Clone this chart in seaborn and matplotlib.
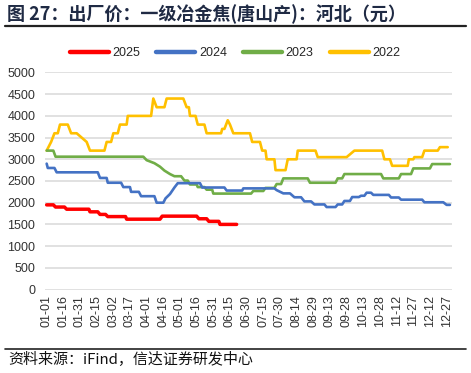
import matplotlib
matplotlib.use("Agg")
import matplotlib.pyplot as plt
import seaborn as sns
import pandas as pd
from matplotlib.lines import Line2D

# ---------------- data (vertices; x = day of year) ----------------
tick_days = list(range(0, 361, 15))
tick_labels = ["01-01", "01-16", "01-31", "02-15", "03-02", "03-17", "04-01", "04-16",
               "05-01", "05-16", "05-31", "06-15", "06-30", "07-15", "07-30", "08-14",
               "08-29", "09-13", "09-28", "10-13", "10-28", "11-12", "11-27", "12-12", "12-27"]

days_2025 = [0, 6, 8, 16, 18, 38, 39, 46, 48, 53, 55, 71, 72, 102, 104, 135, 137, 144, 146, 155, 156, 171]
vals_2025 = [1950, 1950, 1900, 1900, 1850, 1850, 1790, 1790, 1730, 1730, 1680, 1680,
             1620, 1620, 1690, 1690, 1630, 1630, 1570, 1570, 1500, 1500]

days_2024 = [0, 1, 7, 9, 46, 48, 54, 55, 67, 69, 75, 76, 83, 85, 97, 99, 105, 107, 111, 115,
             118, 138, 140, 160, 162, 176, 177, 205, 207, 213, 219, 223, 229, 232, 238, 241, 250,
             252, 260, 262, 266, 268, 273, 275, 281, 283, 286, 288, 292, 294, 308, 310, 317,
             319, 338, 340, 357, 360, 363]
vals_2024 = [2900, 2800, 2800, 2700, 2700, 2570, 2570, 2460, 2460, 2360, 2360, 2250, 2250,
             2150, 2150, 2000, 2000, 2100, 2200, 2350, 2450, 2450, 2350, 2350, 2280, 2280,
             2330, 2330, 2290, 2215, 2215, 2125, 2125, 2030, 2030, 1960, 1960, 1900, 1900,
             1960, 1960, 2040, 2040, 2130, 2130, 2160, 2160, 2230, 2230, 2180, 2180, 2120,
             2120, 2070, 2070, 2010, 2010, 1950, 1950]

days_2023 = [0, 6, 8, 87, 90, 97, 102, 106, 111, 115, 121, 124, 127, 129, 135, 136, 142, 144,
             149, 150, 184, 186, 195, 197, 205, 207, 211, 213, 235, 237, 260, 262, 266, 268,
             301, 303, 317, 319, 328, 330, 345, 347, 363]
vals_2023 = [3200, 3200, 3060, 3060, 2980, 2910, 2830, 2740, 2660, 2610, 2610, 2510, 2510,
             2420, 2420, 2360, 2360, 2300, 2300, 2210, 2210, 2270, 2270, 2340, 2340, 2430,
             2430, 2560, 2560, 2460, 2460, 2560, 2560, 2660, 2660, 2560, 2560, 2660, 2660,
             2790, 2790, 2890, 2890]

days_2022 = [0, 4, 7, 10, 12, 19, 22, 27, 36, 39, 52, 54, 58, 60, 64, 66, 72, 73, 94, 96, 99,
             106, 108, 123, 126, 128, 129, 134, 136, 142, 144, 157, 158, 160, 163, 165, 168,
             183, 185, 192, 194, 197, 198, 205, 206, 215, 217, 225, 226, 242, 244, 270, 277,
             302, 304, 309, 311, 325, 326, 330, 331, 338, 340, 352, 354, 361]
vals_2022 = [3200, 3400, 3600, 3600, 3800, 3800, 3600, 3600, 3400, 3200, 3200, 3400, 3400,
             3600, 3600, 3800, 3800, 4000, 4000, 4400, 4200, 4200, 4400, 4400, 4200, 4200,
             4000, 4000, 3800, 3800, 3600, 3600, 3700, 3700, 3900, 3800, 3600, 3600, 3400,
             3400, 3200, 3200, 3000, 3000, 2750, 2750, 3000, 3000, 3200, 3200, 3050, 3050,
             3200, 3200, 3000, 3000, 2850, 2850, 3000, 3000, 3050, 3050, 3200, 3200, 3280, 3280]

series_names = ["2025", "2024", "2023", "2022"]
series_days = [days_2025, days_2024, days_2023, days_2022]
series_vals = [vals_2025, vals_2024, vals_2023, vals_2022]
colors = ["#FF0000", "#4472C4", "#70AD47", "#FFC000"]
widths = [2.5, 1.9, 1.9, 1.9]

# ---------------- figure ----------------
sns.set_theme(style="white")
plt.rcParams["font.family"] = ["Liberation Sans", "Noto Sans CJK SC", "DejaVu Sans"]

W, H = 471, 373
fig = plt.figure(figsize=(W / 100, H / 100), dpi=100)
ax = fig.add_axes([45 / W, 1 - 289.5 / H, (451.6 - 45) / W, (289.5 - 72.5) / H])

# draw older years first so 2025 is on top
for name, d, v, c, lw, z in zip(series_names[::-1], series_days[::-1], series_vals[::-1],
                                 colors[::-1], widths[::-1], [2, 3, 4, 5]):
    df = pd.DataFrame({"day": d, "value": v})
    sns.lineplot(data=df, x="day", y="value", ax=ax, color=c, linewidth=lw,
                 sort=False, estimator=None, zorder=z, legend=False)

ax.set_xlim(-1.5, 364.5)
ax.set_ylim(0, 5000)
ax.set_yticks(range(0, 5001, 500))
ax.set_yticklabels([str(t) for t in range(0, 5001, 500)], fontsize=9, color="#333333")
ax.set_xticks(tick_days)
ax.set_xticklabels(tick_labels, rotation=90, fontsize=9, color="#333333")
ax.tick_params(axis="both", length=0)
ax.tick_params(axis="y", pad=7)
ax.tick_params(axis="x", pad=4)
ax.set_xlabel("")
ax.set_ylabel("")
ax.grid(axis="y", color="#D9D9D9", linewidth=1.1)
ax.grid(axis="x", visible=False)
for s in ax.spines.values():
    s.set_visible(False)
ax.set_axisbelow(True)

# legend
handles = [Line2D([0], [0], color=c, linewidth=3.2) for c in colors]
fig.legend(handles, series_names, loc="center", bbox_to_anchor=(235 / W, 1 - 53 / H),
           ncol=4, frameon=False, fontsize=9, handlelength=3.1, handletextpad=0.3,
           columnspacing=1.3)

# title, rules, source
fig.text(7 / W, 1 - 14.5 / H, "图 27：出厂价：一级冶金焦(唐山产)：河北（元）",
         fontsize=13, fontweight="bold", color="#1F2A44",
         family=["Noto Sans CJK SC", "DejaVu Sans"], va="center", ha="left")
fig.add_artist(Line2D([5 / W, 466 / W], [1 - 26 / H, 1 - 26 / H], color="#222222",
                      linewidth=1.6, transform=fig.transFigure))
fig.add_artist(Line2D([5 / W, 466 / W], [1 - 348.5 / H, 1 - 348.5 / H], color="#222222",
                      linewidth=1.2, transform=fig.transFigure))
fig.text(8 / W, 1 - 360 / H, "资料来源：iFind，信达证券研发中心", fontsize=10.8,
         color="#111111", family=["Noto Sans CJK SC", "DejaVu Sans"], va="center", ha="left",
         style="italic")

fig.savefig("out.png", dpi=100)
